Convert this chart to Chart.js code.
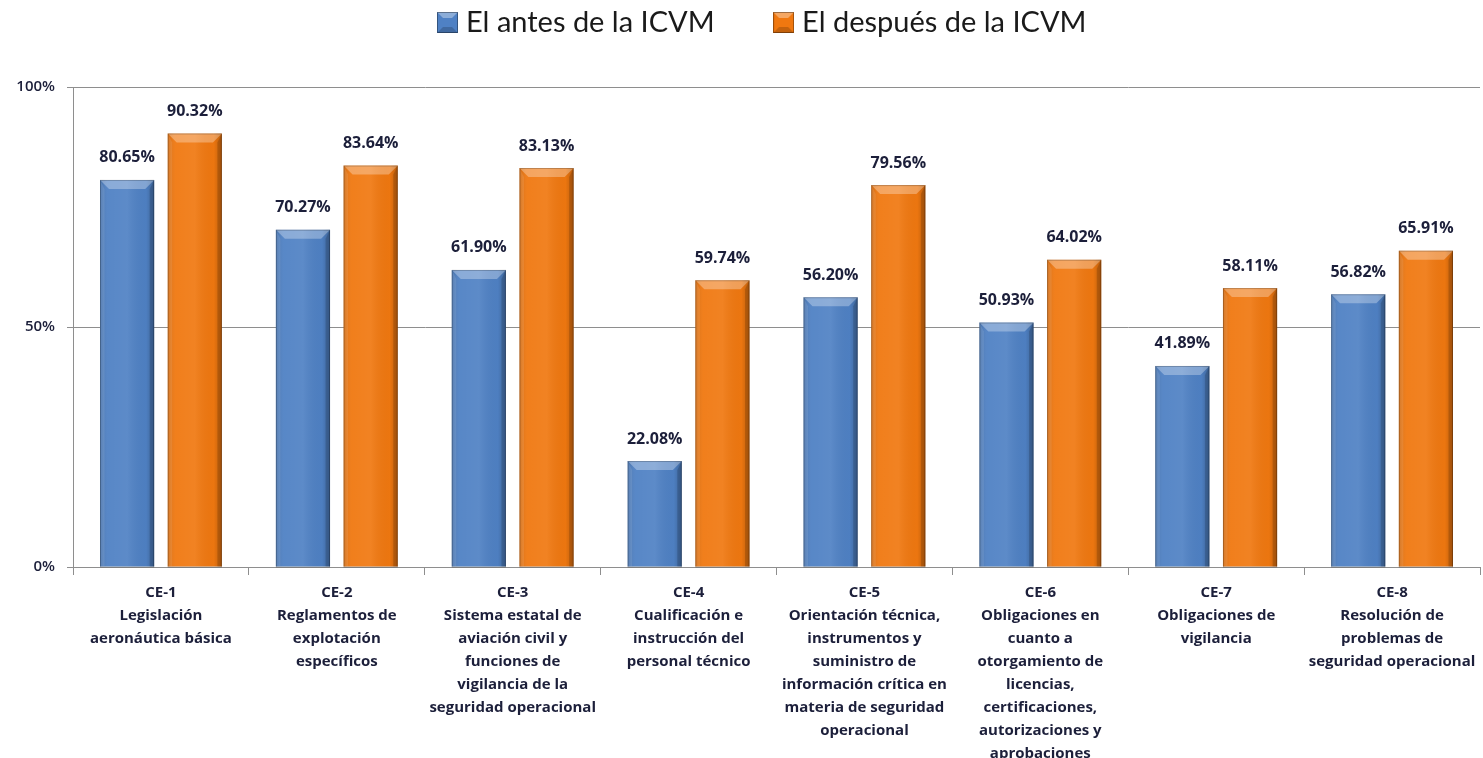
<!DOCTYPE html>
<html>
<head>
<meta charset="utf-8">
<script src="https://cdn.jsdelivr.net/npm/chart.js@4.4.0/dist/chart.umd.min.js"></script>
<style>
  html, body { margin: 0; background: #fff; }
  #wrap { width: 1483px; height: 758px; }
</style>
</head>
<body>
<div id="wrap"><canvas id="chart"></canvas></div>
<script>
/* data */
const categories = [
    ['CE-1', 'Legislación', 'aeronáutica básica'],
    ['CE-2', 'Reglamentos de', 'explotación', 'específicos'],
    ['CE-3', 'Sistema estatal de', 'aviación civil y', 'funciones de', 'vigilancia de la', 'seguridad operacional'],
    ['CE-4', 'Cualificación e', 'instrucción del', 'personal técnico'],
    ['CE-5', 'Orientación técnica,', 'instrumentos y', 'suministro de', 'información crítica en', 'materia de seguridad', 'operacional'],
    ['CE-6', 'Obligaciones en', 'cuanto a', 'otorgamiento de', 'licencias,', 'certificaciones,', 'autorizaciones y', 'aprobaciones'],
    ['CE-7', 'Obligaciones de', 'vigilancia'],
    ['CE-8', 'Resolución de', 'problemas de', 'seguridad operacional']
]
const seriesNames = ['El antes de la ICVM', 'El después de la ICVM']
const antes = [80.65, 70.27, 61.90, 22.08, 56.20, 50.93, 41.89, 56.82]
const despues = [90.32, 83.64, 83.13, 59.74, 79.56, 64.02, 58.11, 65.91]
const yTicks = [0, 50, 100]

const colors = {
    blue: '#4f81c4',
    orange: '#f07810',
    grid: '#8e8e8e',
    text: '#1c1f3a'
}

const FONT = '"Open Sans", sans-serif'
const LEGEND_FONT = 'Lato, "Open Sans", sans-serif'

/* small bevelled square for the legend */
function makeSwatch(color) {
    const c = document.createElement('canvas')
    c.width = 21
    c.height = 21
    const g = c.getContext('2d')
    g.fillStyle = color
    g.fillRect(0, 0, 21, 21)
    g.fillStyle = 'rgba(255,255,255,0.35)'
    g.beginPath(); g.moveTo(0, 0); g.lineTo(21, 0); g.lineTo(15, 6); g.lineTo(6, 6); g.closePath(); g.fill()
    g.fillStyle = 'rgba(0,0,0,0.18)'
    g.beginPath(); g.moveTo(0, 21); g.lineTo(21, 21); g.lineTo(15, 15); g.lineTo(6, 15); g.closePath(); g.fill()
    g.strokeStyle = 'rgba(0,0,0,0.35)'
    g.strokeRect(0.5, 0.5, 20, 20)
    return c
}

/* bevel look on top of each bar */
const bevel = {
    id: 'bevel',
    afterDatasetsDraw(chart) {
        const ctx = chart.ctx
        chart.data.datasets.forEach(function(ds, i) {
            chart.getDatasetMeta(i).data.forEach(function(bar) {
                const left = bar.x - bar.width / 2
                const right = bar.x + bar.width / 2
                const top = bar.y
                const bottom = bar.base
                const b = 9
                ctx.save()
                let g = ctx.createLinearGradient(left, 0, right, 0)
                g.addColorStop(0, 'rgba(0,0,0,0.14)')
                g.addColorStop(0.15, 'rgba(255,255,255,0.05)')
                g.addColorStop(0.5, 'rgba(255,255,255,0.08)')
                g.addColorStop(0.85, 'rgba(0,0,0,0.02)')
                g.addColorStop(1, 'rgba(0,0,0,0.22)')
                ctx.fillStyle = g
                ctx.fillRect(left, top, right - left, bottom - top)
                // top bevel
                ctx.beginPath()
                ctx.moveTo(left, top)
                ctx.lineTo(right, top)
                ctx.lineTo(right - b, top + b)
                ctx.lineTo(left + b, top + b)
                ctx.closePath()
                ctx.fillStyle = 'rgba(255,255,255,0.3)'
                ctx.fill()
                // left bevel
                ctx.beginPath()
                ctx.moveTo(left, top)
                ctx.lineTo(left + b / 2, top + b)
                ctx.lineTo(left + b / 2, bottom)
                ctx.lineTo(left, bottom)
                ctx.closePath()
                ctx.fillStyle = 'rgba(255,255,255,0.1)'
                ctx.fill()
                // right bevel
                ctx.beginPath()
                ctx.moveTo(right, top)
                ctx.lineTo(right - b / 2, top + b)
                ctx.lineTo(right - b / 2, bottom)
                ctx.lineTo(right, bottom)
                ctx.closePath()
                ctx.fillStyle = 'rgba(0,0,0,0.15)'
                ctx.fill()
                ctx.strokeStyle = 'rgba(0,0,0,0.22)'
                ctx.lineWidth = 1
                ctx.strokeRect(left + 0.5, top + 0.5, right - left - 1, bottom - top)
                ctx.restore()
            })
        })
    }
}

/* value labels above bars */
const valueLabels = {
    id: 'valueLabels',
    afterDatasetsDraw(chart) {
        const ctx = chart.ctx
        ctx.save()
        ctx.font = 'bold 16px ' + FONT
        ctx.fillStyle = colors.text
        ctx.textAlign = 'center'
        ctx.textBaseline = 'middle'
        chart.data.datasets.forEach(function(ds, i) {
            chart.getDatasetMeta(i).data.forEach(function(bar, j) {
                ctx.fillText(ds.data[j].toFixed(2) + '%', bar.x, bar.y - 22)
            })
        })
        ctx.restore()
    }
}

/* legend sits at the very top, chart area starts lower */
const legendSpot = {
    id: 'legendSpot',
    beforeInit(chart) {
        const fit = chart.legend.fit
        chart.legend.fit = function() {
            fit.bind(chart.legend)()
            this.height = 87
        }
    },
    afterLayout(chart) {
        // only the top moves, so the clip box still holds the text
        chart.legend.top -= 57
        chart.legend.left += 25
        chart.legend.right += 25
    }
}

const ctx = document.getElementById('chart').getContext('2d')
const myChart = new Chart(ctx, {
    type: 'bar',
    data: {
        labels: categories,
        datasets: [
            {
                label: seriesNames[0],
                data: antes,
                backgroundColor: colors.blue,
                barPercentage: 0.8,
                categoryPercentage: 0.77
            },
            {
                label: seriesNames[1],
                data: despues,
                backgroundColor: colors.orange,
                barPercentage: 0.8,
                categoryPercentage: 0.77
            }
        ]
    },
    options: {
        responsive: true,
        maintainAspectRatio: false,
        animation: false,
        layout: { padding: { right: 3, left: 0, top: 0, bottom: 0 } },
        plugins: {
            tooltip: { enabled: false },
            legend: {
                position: 'top',
                labels: {
                    usePointStyle: true,
                    pointStyleWidth: 8,
                    boxWidth: 21,
                    boxHeight: 21,
                    padding: 65,
                    color: '#1a1a1a',
                    font: { family: LEGEND_FONT, size: 29 },
                    generateLabels(chart) {
                        const items = Chart.defaults.plugins.legend.labels.generateLabels(chart)
                        items.forEach(function(item, i) {
                            item.pointStyle = makeSwatch([colors.blue, colors.orange][i])
                        })
                        return items
                    }
                }
            }
        },
        scales: {
            x: {
                grid: {
                    offset: true,
                    drawOnChartArea: false,
                    tickLength: 8,
                    color: colors.grid
                },
                border: { color: colors.grid },
                ticks: {
                    autoSkip: false,
                    maxRotation: 0,
                    padding: 6,
                    color: colors.text,
                    font: { family: FONT, size: 15, weight: 'bold', lineHeight: '23px' }
                },
                afterFit(scale) { scale.height = 191 }
            },
            y: {
                min: 0,
                max: 100,
                afterBuildTicks(scale) {
                    scale.ticks = yTicks.map(function(v) { return { value: v } })
                },
                grid: {
                    color: colors.grid,
                    tickLength: 6
                },
                border: { color: colors.grid },
                ticks: {
                    padding: 12,
                    color: colors.text,
                    font: { family: FONT, size: 15, weight: '600' },
                    callback: function(v) { return v + '%' }
                },
                afterFit(scale) { scale.width = 73 }
            }
        }
    },
    plugins: [legendSpot, bevel, valueLabels]
})
</script>
</body>
</html>
